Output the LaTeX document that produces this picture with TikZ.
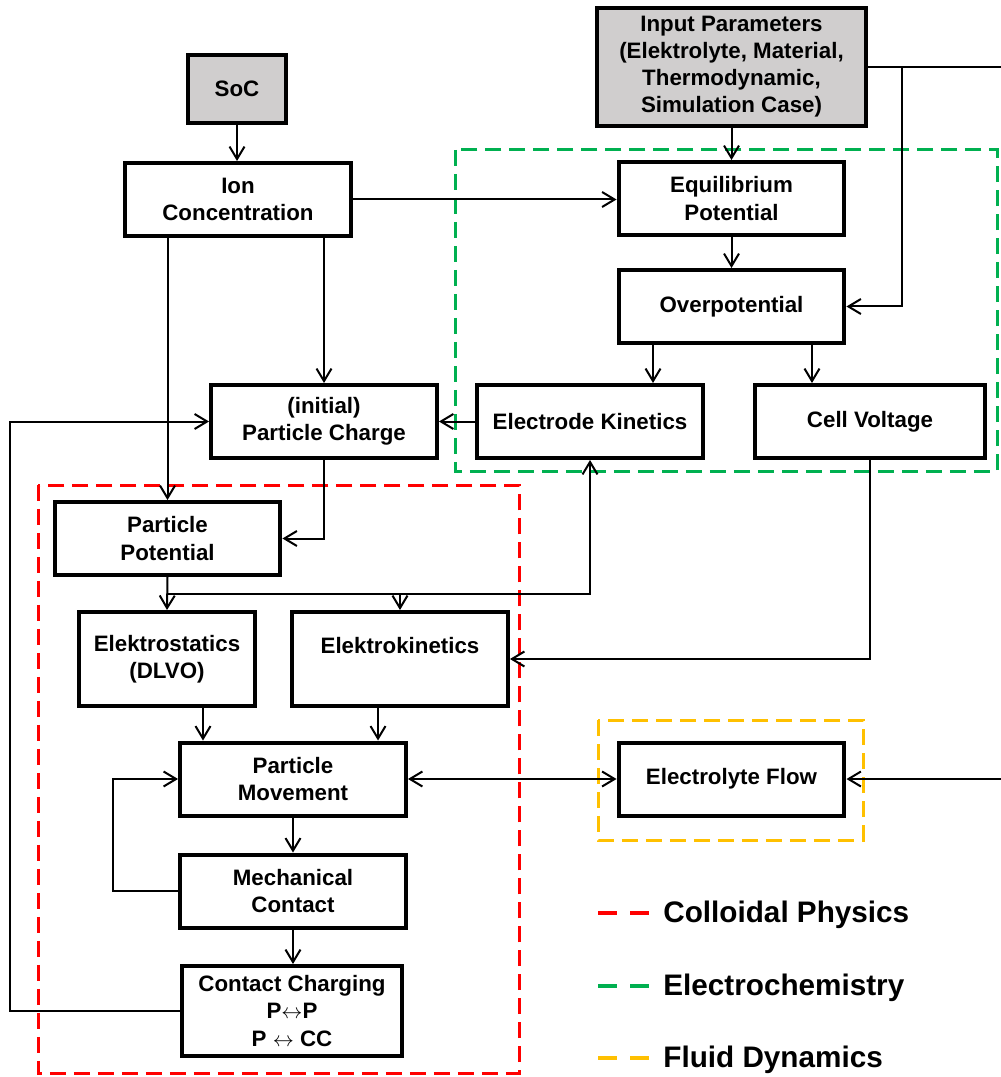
\documentclass[tikz,border=0pt]{standalone}
\usepackage{fontspec}
\setmainfont{Liberation Sans}
\usetikzlibrary{arrows.meta}

\definecolor{boxgray}{RGB}{208,206,206}
\definecolor{grpred}{RGB}{255,0,0}
\definecolor{grpgreen}{RGB}{0,176,80}
\definecolor{grpyellow}{RGB}{255,192,0}

\begin{document}
\begin{tikzpicture}[
    x=0.02cm, y=-0.02cm,
    every node/.style={font=\fontsize{12.7}{15.4}\selectfont\bfseries, align=center},
    box/.style={draw, fill=white, line width=0.8mm, minimum width=4.52cm, minimum height=1.46cm, inner sep=0pt},
    inbox/.style={box, fill=boxgray},
    arr/.style={line width=0.4mm, -{Straight Barb[length=2.5mm,width=3mm]}},
    biarr/.style={line width=0.4mm, {Straight Barb[length=2.5mm,width=3mm]}-{Straight Barb[length=2.5mm,width=3mm]}},
    grp/.style={line width=0.6mm, dash pattern=on 3.2mm off 1.6mm},
    keyline/.style={line width=0.9mm, dash pattern=on 3.8mm off 2.6mm},
    key/.style={font=\fontsize{16.9}{20}\selectfont\bfseries, anchor=west, inner sep=0pt} % legend text
]
\useasboundingbox (0,0) rectangle (1000,1077);

% group frames
\draw[grp, grpgreen] (455,150) rectangle (997,471);
\draw[grp, grpred] (38,485) rectangle (519,1073);
\draw[grp, grpyellow] (598,720) rectangle (863,840);

\node[inbox, minimum width=1.96cm, minimum height=1.36cm] (soc) at (237,89) {SoC};
\node[inbox, minimum width=5.38cm, minimum height=2.36cm, text depth=3pt] (param) at (731.5,67)
    {Input Parameters\\(Elektrolyte, Material,\\Thermodynamic,\\Simulation Case)};
\node[box] (ion) at (238,199.5) {Ion\\Concentration};
\node[box] (equi) at (731.5,198.5) {Equilibrium\\Potential};
\node[box] (over) at (731.5,306.5) {Overpotential};
\node[box] (charge) at (324,421.5) {(initial)\\Particle Charge};
\node[box] (kinetics) at (590,421.5) {Electrode Kinetics};
\node[box, minimum width=4.6cm] (voltage) at (870,421.5) {Cell Voltage};
\node[box] (potential) at (167.5,538.5) {Particle\\Potential};
\node[box, minimum width=3.52cm, minimum height=1.88cm] (statics) at (167,659) {Elektrostatics\\(DLVO)};
\node[box, minimum width=4.32cm, minimum height=1.88cm] (ekin) at (400,659) {Elektrokinetics\\\mbox{}};
\node[box] (move) at (293,779) {Particle\\Movement};
\node[box] (mech) at (293,891) {Mechanical\\Contact};
\node[box, minimum width=4.4cm, minimum height=1.8cm] (contact) at (292,1011)
    {Contact Charging\\P$\leftrightarrow$P\\P $\leftrightarrow$ CC};
\node[box] (flow) at (731.5,779) {Electrolyte Flow};

% connectors
\draw[arr] (soc.south) -- (soc.south |- ion.north);
\draw[arr] (param.south) -- (equi.north);
\draw[arr] (equi.south) -- (over.north);
\draw[arr] (ion.east) -- (ion.east -| equi.west);
\draw[arr] (ion.south -| charge.north) -- (charge.north);
\draw[arr] (ion.south -| potential.north) -- (potential.north);
\draw[arr] ([xshift=-1.57cm]over.south) -- ([xshift=-1.57cm]over.south |- kinetics.north);
\draw[arr] ([xshift=1.61cm]over.south) -- ([xshift=1.61cm]over.south |- voltage.north);
\draw[arr] ([xshift=0.68cm]param.east) |- (over.east);
\draw[arr] (param.east) -- ++(2.8cm,0) |- (flow.east);
\draw[arr] (kinetics.west) -- (charge.east);
\draw[arr] (contact.west) -- ++(-3.4cm,0) |- (charge.west);
\draw[arr] (charge.south) |- (potential.east);
\draw[arr] (potential.south) -- (statics.north);
\path (potential.south) -- (statics.north) coordinate[pos=0.5] (split);
\draw[arr] (split) -| (kinetics.south);
\draw[arr] (split -| ekin.north) -- (ekin.north);
\draw[arr] (voltage.south) |- (ekin.east);
\draw[arr] ([xshift=0.72cm]statics.south) -- ([xshift=0.72cm]statics.south |- move.north);
\draw[arr] ([xshift=-0.44cm]ekin.south) -- ([xshift=-0.44cm]ekin.south |- move.north);
\draw[arr] (move.south) -- (mech.north);
\draw[arr] (mech.south) -- (mech.south |- contact.north);
\draw[arr] (mech.west) -- ++(-1.3cm,0) |- (move.west);
\draw[biarr] (move.east) -- (flow.west);

% legend
\draw[keyline, grpred] (598,913) -- (650,913);
\node[key] (kcoll) at (663,915) {Colloidal Physics};
\draw[keyline, grpgreen] (598,986) -- (650,986);
\node[key] (kelec) at (663,988) {Electrochemistry};
\draw[keyline, grpyellow] (598,1058) -- (650,1058);
\node[key] (kfluid) at (663,1060) {Fluid Dynamics};
\end{tikzpicture}
\end{document}
